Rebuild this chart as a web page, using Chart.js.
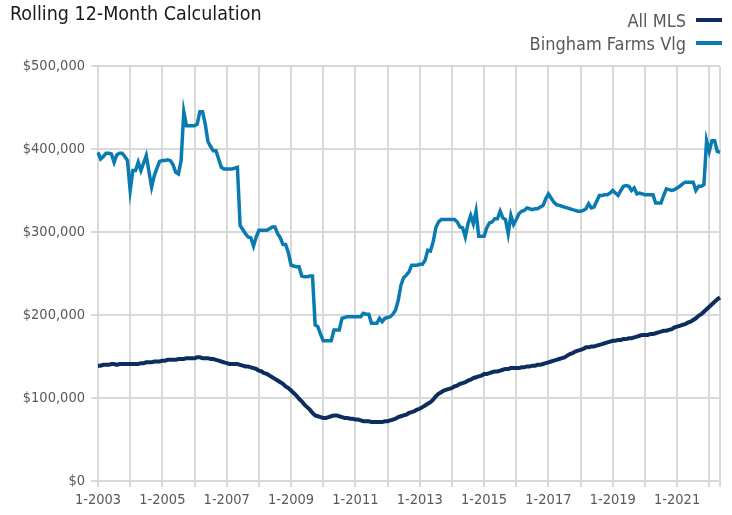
<!DOCTYPE html>
<html lang="en">
<head>
    <meta charset="UTF-8">
    <title>Rolling 12-Month Calculation</title>
    <script src="https://cdn.jsdelivr.net/npm/chart.js"></script>
    <style>
        body {
            margin: 0;
            background: #fff;
        }
    </style>
</head>
<body>
<canvas id="chart" width="732" height="515"></canvas>
<script>
    const FONT = "'Liberation Sans Narrow', 'DejaVu Sans Condensed', sans-serif";
    const chartTitle = 'Rolling 12-Month Calculation';

    // monthly, 1-2003 .. 5-2022
    const startYear = 2003;
    const tickLabels = ['1-2003', '1-2005', '1-2007', '1-2009', '1-2011', '1-2013', '1-2015', '1-2017', '1-2019', '1-2021'];
    const yTicks = [0, 100000, 200000, 300000, 400000, 500000];

    // values in $1,000, one row per year
    const allMls = [
        139, 139, 140, 140, 140, 141, 141, 140, 141, 141, 141, 141,
        141, 141, 141, 141, 142, 142, 143, 143, 143, 144, 144, 144,
        145, 145, 146, 146, 146, 146, 147, 147, 147, 148, 148, 148,
        148, 149, 149, 148, 148, 148, 147, 147, 146, 145, 144, 143,
        142, 141, 141, 141, 141, 140, 139, 138, 138, 137, 136, 135,
        133, 132, 130, 129, 127, 125, 123, 121, 119, 117, 114, 112,
        109, 106, 103, 99, 96, 92, 89, 86, 82, 79, 78, 77,
        76, 76, 77, 78, 79, 79, 78, 77, 76, 76, 75, 75,
        74, 74, 73, 72, 72, 72, 71, 71, 71, 71, 71, 72,
        72, 73, 74, 75, 77, 78, 79, 80, 82, 83, 84, 86,
        87, 89, 91, 93, 95, 98, 102, 105, 107, 109, 110, 111,
        112, 114, 115, 117, 118, 119, 121, 122, 124, 125, 126, 127,
        129, 129, 130, 131, 132, 132, 133, 134, 135, 135, 136, 136,
        136, 136, 137, 137, 138, 138, 139, 139, 140, 140, 141, 142,
        143, 144, 145, 146, 147, 148, 149, 151, 153, 154, 156, 157,
        158, 159, 161, 161, 162, 162, 163, 164, 165, 166, 167, 168,
        169, 169, 170, 170, 171, 171, 172, 172, 173, 174, 175, 176,
        176, 176, 177, 177, 178, 179, 180, 181, 181, 182, 183, 185,
        186, 187, 188, 189, 191, 192, 194, 196, 199, 201, 204, 207,
        210, 213, 216, 219, 221
    ];
    const binghamFarms = [
        396, 388, 391, 395, 395, 394, 384, 393, 395, 395, 391, 386,
        350, 374, 374, 384, 374, 383, 392, 373, 354, 368, 377, 385,
        386, 386, 387, 386, 381, 372, 370, 386, 445, 428, 428, 428,
        428, 430, 445, 445, 430, 409, 403, 398, 398, 388, 378, 376,
        376, 376, 376, 377, 378, 308, 303, 298, 294, 293, 283, 294,
        302, 302, 302, 302, 304, 306, 306, 298, 293, 285, 285, 275,
        260, 259, 258, 258, 247, 246, 246, 247, 247, 188, 186, 177,
        169, 169, 169, 169, 182, 182, 182, 196, 197, 198, 198, 198,
        198, 198, 198, 202, 201, 201, 190, 190, 190, 196, 192, 196,
        197, 198, 201, 206, 218, 236, 245, 248, 252, 260, 260, 260,
        261, 261, 266, 278, 277, 288, 305, 312, 315, 315, 315, 315,
        315, 315, 312, 306, 305, 294, 310, 320, 310, 325, 295, 295,
        295, 305, 311, 312, 316, 316, 325, 317, 315, 298, 320, 309,
        315, 322, 325, 326, 329, 328, 327, 328, 328, 330, 332, 340,
        346, 341, 336, 333, 332, 331, 330, 329, 328, 327, 326, 325,
        325, 326, 328, 334, 329, 330, 337, 344, 344, 345, 345, 347,
        350, 347, 344, 350, 355, 356, 355, 350, 353, 346, 347, 346,
        345, 345, 345, 345, 335, 335, 335, 344, 352, 351, 350, 351,
        353, 355, 358, 360, 360, 360, 360, 350, 355, 355, 357, 410,
        397, 410, 410, 397, 396
    ];

    const labels = allMls.map((v, i) => (i % 12 + 1) + '-' + (startYear + Math.floor(i / 12)));

    const headerPlugin = {
        id: 'header',
        afterDraw(chart) {
            const ctx = chart.ctx;
            ctx.save();
            ctx.textBaseline = 'alphabetic';
            ctx.fillStyle = '#1a1a1a';
            ctx.font = '19.5px ' + FONT;
            ctx.textAlign = 'left';
            ctx.fillText(chartTitle, 10, 20);

            // legend, one row per series, right aligned
            ctx.font = '18px ' + FONT;
            ctx.textAlign = 'right';
            chart.data.datasets.forEach((ds, i) => {
                const y = 20 + i * 23;
                ctx.fillStyle = '#595959';
                ctx.fillText(ds.label, 686, y + 7);
                ctx.strokeStyle = ds.borderColor;
                ctx.lineWidth = 4;
                ctx.beginPath();
                ctx.moveTo(696, y);
                ctx.lineTo(722, y);
                ctx.stroke();
            });
            ctx.restore();
        }
    };

    new Chart(document.getElementById('chart'), {
        type: 'line',
        data: {
            labels: labels,
            datasets: [{
                label: 'All MLS',
                data: allMls.map(v => v * 1000),
                borderColor: '#0c2d5e',
                borderWidth: 4,
                pointRadius: 0,
                tension: 0
            }, {
                label: 'Bingham Farms Vlg',
                data: binghamFarms.map(v => v * 1000),
                borderColor: '#0a7bb1',
                borderWidth: 3.5,
                pointRadius: 0,
                tension: 0
            }]
        },
        options: {
            responsive: false,
            animation: false,
            devicePixelRatio: 1,
            layout: {
                padding: { top: 66, left: 10, right: 12, bottom: 0 }
            },
            plugins: {
                legend: { display: false },
                title: { display: false },
                tooltip: { enabled: false }
            },
            scales: {
                x: {
                    offset: false,
                    afterFit: (scale) => { scale.height = 34; },
                    grid: {
                        color: '#d9d9d9',
                        lineWidth: 2,
                        tickLength: 6
                    },
                    border: { color: '#d9d9d9', width: 2 },
                    ticks: {
                        autoSkip: false,
                        maxRotation: 0,
                        padding: 5,
                        color: '#595959',
                        font: { family: FONT, size: 14.5 },
                        callback: function (value, index) {
                            const lab = labels[index];
                            if (tickLabels.includes(lab)) return lab;
                            if (lab.startsWith('1-') || index === labels.length - 1) return '';
                            return null;
                        }
                    }
                },
                y: {
                    min: 0,
                    max: 500000,
                    afterFit: (scale) => { scale.width = 88; },
                    afterBuildTicks: (scale) => { scale.ticks = yTicks.map(v => ({ value: v })); },
                    grid: {
                        color: '#d9d9d9',
                        lineWidth: 2,
                        tickLength: 7
                    },
                    border: { color: '#d9d9d9', width: 2 },
                    ticks: {
                        padding: 6,
                        color: '#595959',
                        font: { family: FONT, size: 14.5 },
                        callback: (v) => '$' + v.toLocaleString('en-US')
                    }
                }
            }
        },
        plugins: [headerPlugin]
    });
</script>
</body>
</html>
